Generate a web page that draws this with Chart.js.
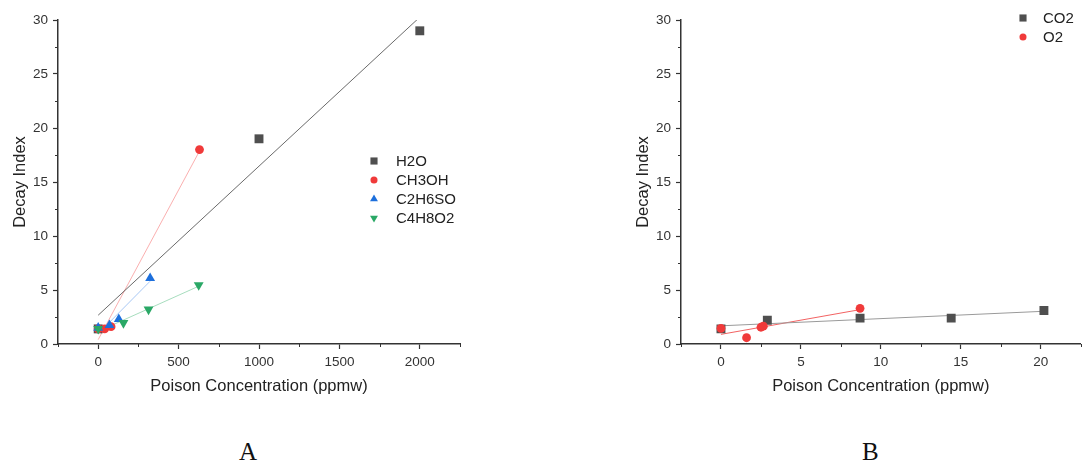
<!DOCTYPE html>
<html>
<head>
<meta charset="utf-8">
<script src="https://cdn.jsdelivr.net/npm/chart.js@4"></script>
<style>
  html, body { margin: 0; padding: 0; background: #fff; }
  body { width: 1082px; height: 465px; position: relative; overflow: hidden; }
  .wrap { position: absolute; top: 0; height: 400px; }
  #wrapA { left: 0; width: 475px; }
  #wrapB { left: 623px; width: 464px; }
  .panel { position: absolute; top: 438px; font-family: "Liberation Serif", "DejaVu Serif", serif; font-size: 25px; color: #111; }
</style>
</head>
<body>
<div class="wrap" id="wrapA"><canvas id="chartA"></canvas></div>
<div class="wrap" id="wrapB"><canvas id="chartB"></canvas></div>
<div class="panel" style="left:239px">A</div>
<div class="panel" style="left:862px">B</div>

<script>
// ── Data ───────────────────────────────────────────────────────
const h2oX    = [0, 1000, 2000];
const h2oY    = [1.4, 19, 29];
const ch3ohX  = [0, 40, 80, 630];
const ch3ohY  = [1.4, 1.4, 1.6, 18];
const c2h6soX = [0, 70, 128, 323];
const c2h6soY = [1.5, 1.75, 2.3, 6.1];
const c4h8o2X = [0, 157, 313, 625];
const c4h8o2Y = [1.4, 1.95, 3.2, 5.45];

const co2X = [0, 2.9, 8.7, 14.4, 20.2];
const co2Y = [1.4, 2.2, 2.4, 2.4, 3.1];
const o2X  = [0, 1.6, 2.5, 2.65, 8.7];
const o2Y  = [1.45, 0.58, 1.55, 1.65, 3.3];

const yTicks = { min: 0, max: 30, step: 2.5, major: 5 };
const xTicksA = { min: -250, max: 2250, step: 250, major: 500 };
const xTicksB = { min: -2.5, max: 22.5, step: 2.5, major: 5 };

// ── Styling ────────────────────────────────────────────────────
const AXIS = '#333';
const SANS = '"Liberation Sans", Arial, sans-serif';

// ── Helpers ────────────────────────────────────────────────────
const pts = (xs, ys) => xs.map((x, i) => ({ x, y: ys[i] }));
const isMajor = (v, m) => Math.abs(v / m - Math.round(v / m)) < 1e-6;

// least-squares line over the data range, like the Origin fit
function fitLine(xs, ys) {
  const n = xs.length;
  const mx = xs.reduce((a, b) => a + b, 0) / n;
  const my = ys.reduce((a, b) => a + b, 0) / n;
  let sxy = 0, sxx = 0;
  xs.forEach((x, i) => { sxy += (x - mx) * (ys[i] - my); sxx += (x - mx) ** 2; });
  const b = sxy / sxx, a = my - b * mx;
  const x0 = Math.min(...xs), x1 = Math.max(...xs);
  return [{ x: x0, y: a + b * x0 }, { x: x1, y: a + b * x1 }];
}

const pointSet = (label, xs, ys, color, style, radius, order, rotation = 0) => ({
  label,
  data: pts(xs, ys),
  showLine: false,
  pointStyle: style,
  pointRadius: radius,
  pointHoverRadius: radius,
  rotation,
  backgroundColor: color,
  borderColor: color,
  borderWidth: 0,
  order,
});

const fitSet = (xs, ys, color, width = 1) => ({
  label: '',
  data: fitLine(xs, ys),
  showLine: true,
  pointRadius: 0,
  borderColor: color,
  borderWidth: width,
  fill: false,
  order: 10,
});

// ── Plugins ────────────────────────────────────────────────────
const pointLegend = {
  id: 'pointLegend',
  afterDraw(chart, args, opts) {
    const ctx = chart.ctx;
    ctx.save();
    let y = opts.y;
    chart.data.datasets.filter(ds => !ds.showLine).forEach(ds => {
      ctx.fillStyle = ds.backgroundColor;
      Chart.helpers.drawPoint(ctx, {
        pointStyle: ds.pointStyle, radius: ds.pointRadius * 0.8,
        rotation: ds.rotation, borderWidth: 0
      }, opts.x, y);
      ctx.fillStyle = '#222';
      ctx.font = `15px ${SANS}`;
      ctx.textBaseline = 'middle';
      ctx.textAlign = 'left';
      ctx.fillText(ds.label, opts.textX, y + 1);
      y += opts.gap;
    });
    ctx.restore();
  }
};

const minorTicks = {
  id: 'minorTicks',
  afterDraw(chart, args, opts) {
    const ctx = chart.ctx;
    const { x, y } = chart.scales;
    ctx.save();
    ctx.strokeStyle = AXIS;
    ctx.lineWidth = 1;
    ctx.beginPath();
    x.ticks.forEach(t => {
      if (isMajor(t.value, opts.xMajor)) return;
      const px = Math.round(x.getPixelForValue(t.value)) + 0.5;
      ctx.moveTo(px, x.top); ctx.lineTo(px, x.top + 3);
    });
    y.ticks.forEach(t => {
      if (isMajor(t.value, opts.yMajor)) return;
      const py = Math.round(y.getPixelForValue(t.value)) + 0.5;
      ctx.moveTo(y.right, py); ctx.lineTo(y.right - 3, py);
    });
    ctx.stroke();
    ctx.restore();
  }
};

function makeOptions(xt, legendPos, padRight) {
  const axisGrid = major => ({
    drawOnChartArea: false,
    drawTicks: true,
    tickLength: 5,
    tickWidth: 1.2,
    tickColor: c => (c.tick && isMajor(c.tick.value, major)) ? AXIS : 'rgba(0,0,0,0)',
  });
  return {
    animation: false,
    responsive: true,
    maintainAspectRatio: false,
    layout: { padding: { top: 20, right: padRight, left: 0, bottom: 0 } },
    plugins: {
      legend: { display: false },
      tooltip: { enabled: false },
      pointLegend: legendPos,
      minorTicks: { xMajor: xt.major, yMajor: yTicks.major },
    },
    scales: {
      x: {
        type: 'linear',
        min: xt.min, max: xt.max,
        afterFit: s => { s.height = 56; },
        border: { color: AXIS, width: 1.5 },
        grid: axisGrid(xt.major),
        ticks: {
          stepSize: xt.step, autoSkip: false, maxRotation: 0, padding: 5,
          color: '#333', font: { family: SANS, size: 13.5 },
          callback: v => isMajor(v, xt.major) ? v : '',
        },
        title: {
          display: true, text: 'Poison Concentration (ppmw)', color: '#222',
          font: { family: SANS, size: 16.5 }, padding: { top: 0, bottom: 4 },
        },
      },
      y: {
        type: 'linear',
        min: yTicks.min, max: yTicks.max,
        afterFit: s => { s.width = 58; },
        border: { color: AXIS, width: 1.5 },
        grid: axisGrid(yTicks.major),
        ticks: {
          stepSize: yTicks.step, autoSkip: false, padding: 5,
          color: '#333', font: { family: SANS, size: 13.5 },
          callback: v => isMajor(v, yTicks.major) ? v : '',
        },
        title: {
          display: true, text: 'Decay Index', color: '#222',
          font: { family: SANS, size: 16.5 }, padding: { top: 11, bottom: 0 },
        },
      },
    },
  };
}

// ── Chart A ────────────────────────────────────────────────────
new Chart(document.getElementById('chartA'), {
  type: 'scatter',
  data: {
    datasets: [
      pointSet('H2O', h2oX, h2oY, '#4f4f4f', 'rect', 6.3, 4),
      pointSet('CH3OH', ch3ohX, ch3ohY, '#f03a3a', 'circle', 4.4, 3),
      pointSet('C2H6SO', c2h6soX, c2h6soY, '#1d6fdc', 'triangle', 5.7, 2),
      pointSet('C4H8O2', c4h8o2X, c4h8o2Y, '#2aa866', 'triangle', 5.7, 1, 180),
      fitSet(h2oX, h2oY, '#444', 0.8),
      fitSet(ch3ohX, ch3ohY, 'rgba(245,110,110,0.55)'),
      fitSet(c2h6soX, c2h6soY, 'rgba(60,130,230,0.45)'),
      fitSet(c4h8o2X, c4h8o2Y, 'rgba(60,180,110,0.45)'),
    ],
  },
  options: makeOptions(xTicksA, { x: 374, textX: 396, y: 161, gap: 19 }, 15),
  plugins: [pointLegend, minorTicks],
});

// ── Chart B ────────────────────────────────────────────────────
new Chart(document.getElementById('chartB'), {
  type: 'scatter',
  data: {
    datasets: [
      pointSet('CO2', co2X, co2Y, '#4f4f4f', 'rect', 6.3, 2),
      pointSet('O2', o2X, o2Y, '#f03a3a', 'circle', 4.4, 1),
      fitSet(co2X, co2Y, '#9a9a9a', 1),
      fitSet(o2X, o2Y, 'rgba(240,70,70,0.85)', 1),
    ],
  },
  options: makeOptions(xTicksB, { x: 400, textX: 420, y: 18, gap: 19 }, 1),
  plugins: [pointLegend, minorTicks],
});
</script>
</body>
</html>
